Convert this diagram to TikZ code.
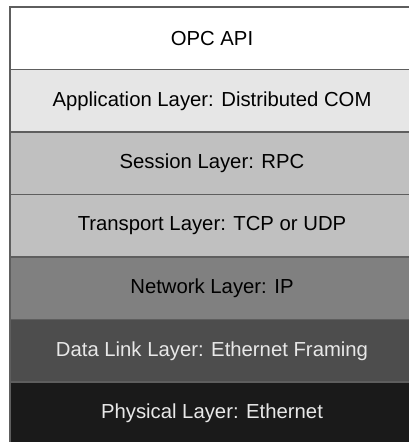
\documentclass[tikz,border=0pt]{standalone}
\usepackage{fontspec}
\setmainfont{Liberation Sans}
\definecolor{bordergray}{HTML}{5E5E5E}
\definecolor{appgray}{HTML}{E6E6E6}
\definecolor{sessgray}{HTML}{C0C0C0}
\definecolor{netgray}{HTML}{808080}
\definecolor{linkgray}{HTML}{4D4D4D}
\definecolor{physgray}{HTML}{1A1A1A}
\definecolor{lighttext}{HTML}{E8E8E8}
\begin{document}
\begin{tikzpicture}[x=1pt,y=-1pt,
  layer/.style={draw=bordergray, line width=1.3pt, minimum width=404pt, minimum height=62.5pt,
    inner sep=0pt, outer sep=0pt, anchor=north west, font=\fontsize{20.3}{22}\selectfont}]
\useasboundingbox (0,0) rectangle (409,442);
\clip (0,0) rectangle (409,442);
\node[layer, fill=white] (opc) at (10,7) {OPC API};
\node[layer, fill=appgray] (app) at (10,69.5) {Application Layer: Distributed COM};
\node[layer, fill=sessgray] (sess) at (10,132) {Session Layer: RPC};
\node[layer, fill=sessgray] (trans) at (10,194.5) {Transport Layer: TCP or UDP};
\node[layer, fill=netgray] (net) at (10,257) {Network Layer: IP};
\node[layer, fill=linkgray, text=lighttext] (link) at (10,319.5) {Data Link Layer: Ethernet Framing};
\node[layer, fill=physgray, text=lighttext] (phys) at (10,382) {Physical Layer: Ethernet};
\end{tikzpicture}
\end{document}
